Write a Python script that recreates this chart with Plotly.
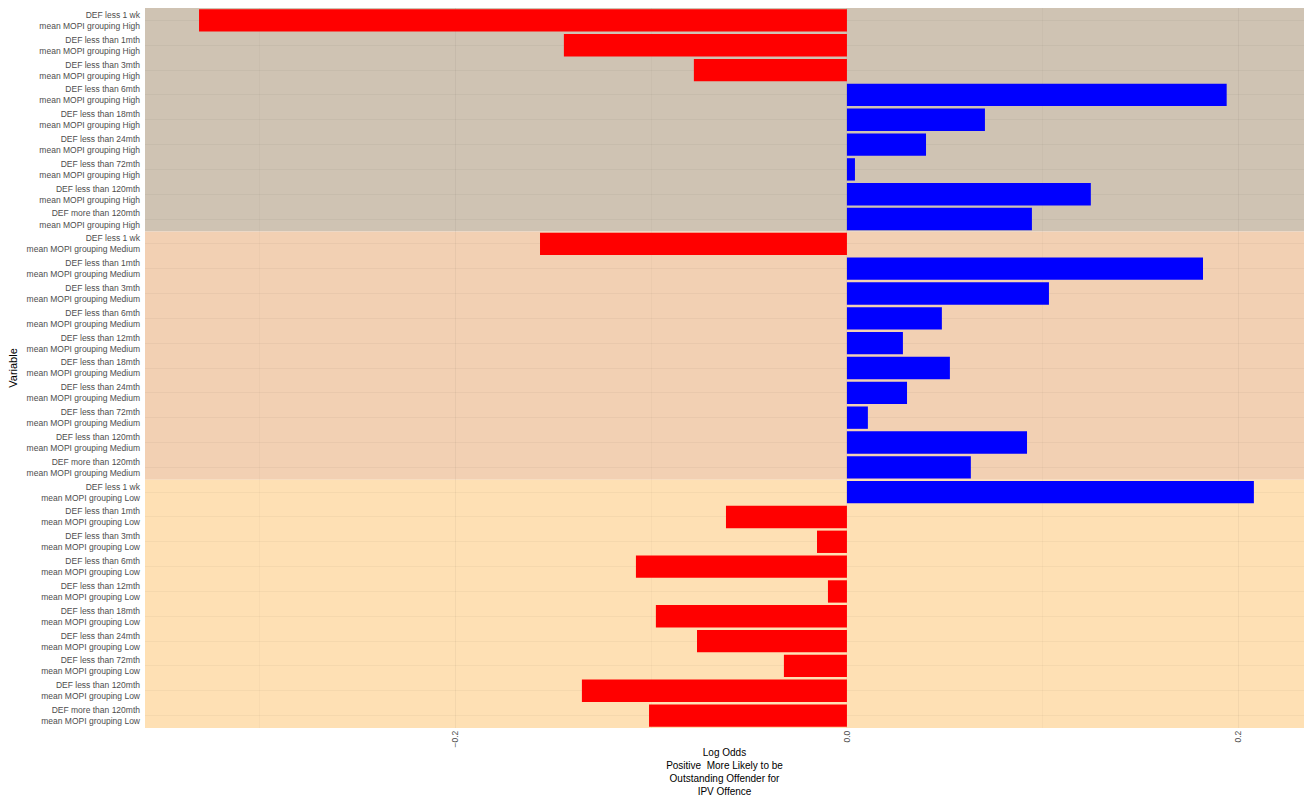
import plotly.graph_objects as go

# row labels, top to bottom
durations_high = ["DEF less 1 wk", "DEF less than 1mth", "DEF less than 3mth", "DEF less than 6mth",
                  "DEF less than 18mth", "DEF less than 24mth", "DEF less than 72mth",
                  "DEF less than 120mth", "DEF more than 120mth"]
durations_med = ["DEF less 1 wk", "DEF less than 1mth", "DEF less than 3mth", "DEF less than 6mth",
                 "DEF less than 12mth", "DEF less than 18mth", "DEF less than 24mth",
                 "DEF less than 72mth", "DEF less than 120mth", "DEF more than 120mth"]
durations_low = durations_med

# log odds
log_odds_high = [-0.331, -0.1446, -0.0782, 0.194, 0.0705, 0.0404, 0.0041, 0.1246, 0.0945]
log_odds_med = [-0.1568, 0.1819, 0.1032, 0.0485, 0.0286, 0.0526, 0.0307, 0.0107, 0.092, 0.0633]
log_odds_low = [0.2079, -0.0618, -0.0153, -0.1078, -0.0097, -0.0976, -0.0766, -0.0322, -0.1354, -0.1011]

groups = ["High", "Medium", "Low"]
band_colors = {"High": "#cfc3b3", "Medium": "#f2d0b3", "Low": "#fee0b4"}

labels, values = [], []
for g, durs, vals in [("High", durations_high, log_odds_high),
                      ("Medium", durations_med, log_odds_med),
                      ("Low", durations_low, log_odds_low)]:
    for d, v in zip(durs, vals):
        labels.append(f"{d}<br>mean MOPI grouping {g}")
        values.append(v)

colors = ["#0000ff" if v > 0 else "#ff0000" for v in values]

fig = go.Figure()
fig.add_trace(go.Bar(
    x=values, y=labels, orientation="h",
    marker=dict(color=colors, line=dict(width=0)),
    width=0.9, showlegend=False,
))

# background bands per MOPI group
start = 0
shapes = []
for g, n in zip(groups, [len(durations_high), len(durations_med), len(durations_low)]):
    shapes.append(dict(type="rect", xref="paper", x0=0, x1=1, yref="y",
                       y0=start - 0.5, y1=start + n - 0.5,
                       fillcolor=band_colors[g], line=dict(width=0), layer="below"))
    start += n

fig.update_layout(
    width=1304, height=797,
    shapes=shapes,
    plot_bgcolor="white", paper_bgcolor="white",
    font=dict(family="Liberation Sans, Arial, sans-serif", color="#000000"),
    margin=dict(l=145, r=0, t=8, b=69),
    bargap=0.1,
    xaxis=dict(
        range=[-0.3586, 0.2335], automargin=False,
        tick0=0, dtick=0.2, tickformat=".1f",
        tickangle=-90, ticks="",
        tickfont=dict(size=8.5, color="#4d4d4d"),
        showgrid=True, gridcolor="rgba(0,0,0,0.045)", gridwidth=1,
        minor=dict(dtick=0.1, tick0=0, showgrid=True, gridcolor="rgba(0,0,0,0.025)"),
        zeroline=False, showline=False,
        title=dict(text="Log Odds<br>Positive  More Likely to be<br>Outstanding Offender for<br>IPV Offence",
                   font=dict(size=10), standoff=2),
    ),
    yaxis=dict(
        categoryorder="array", categoryarray=labels, automargin=False,
        range=[len(labels) - 0.5, -0.5],
        ticks="", ticklabelstandoff=4,
        tickfont=dict(size=8.5, color="#4d4d4d"),
        showgrid=True, gridcolor="rgba(0,0,0,0.035)",
        zeroline=False, showline=False,
        title=dict(text="Variable", font=dict(size=11), standoff=6),
    ),
)

# drop the default page margin so the figure fills the window exactly
fig.write_html("out.html", config={"displayModeBar": False},
               post_script="document.body.style.margin='0';document.body.style.overflow='hidden';")
